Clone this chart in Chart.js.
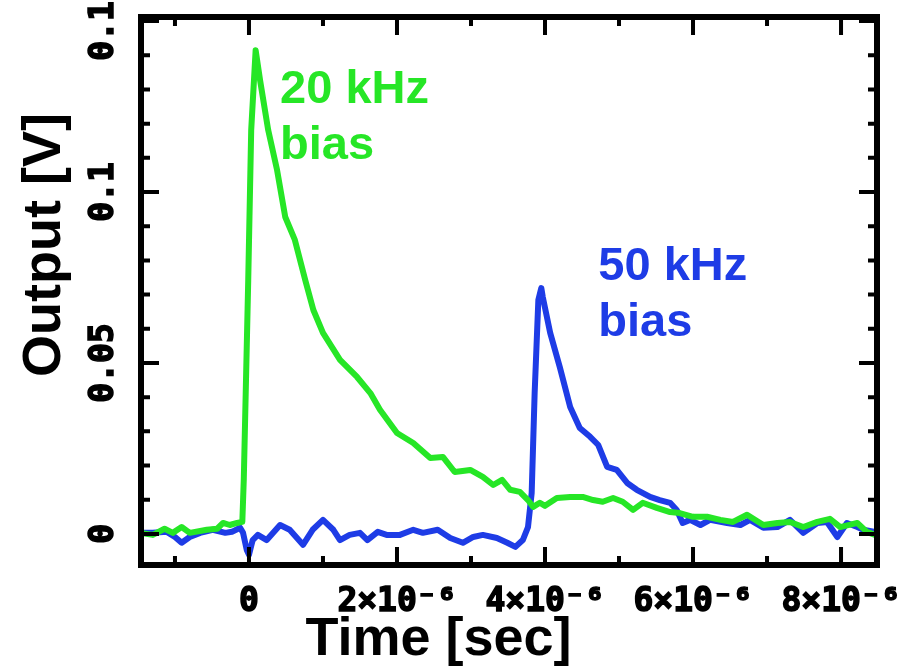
<!DOCTYPE html>
<html>
<head>
<meta charset="utf-8">
<title>Output vs Time</title>
<script src="https://cdn.jsdelivr.net/npm/chart.js@4.4.1/dist/chart.umd.min.js"></script>
<style>
  html, body { margin: 0; padding: 0; background: #fff; }
  #biasChart { display: block; }
</style>
</head>
<body>
<canvas id="biasChart" width="905" height="669"></canvas>
<script>
// 20 kHz bias trace (time in s, output in V)
const greenTime = [
  -1.46e-6, -1.30e-6, -1.14e-6, -1.03e-6, -0.91e-6, -0.80e-6, -0.57e-6, -0.43e-6, -0.35e-6, -0.26e-6,
  -0.16e-6, -0.09e-6, -0.07e-6, -0.01e-6, 0.03e-6, 0.09e-6, 0.15e-6, 0.26e-6, 0.38e-6, 0.49e-6,
  0.62e-6, 0.76e-6, 0.87e-6, 1.00e-6, 1.23e-6, 1.46e-6, 1.64e-6, 1.77e-6, 2.00e-6, 2.22e-6,
  2.45e-6, 2.62e-6, 2.78e-6, 2.99e-6, 3.16e-6, 3.30e-6, 3.42e-6, 3.53e-6, 3.66e-6, 3.77e-6,
  3.84e-6, 3.93e-6, 4.00e-6, 4.16e-6, 4.34e-6, 4.51e-6, 4.65e-6, 4.78e-6, 4.92e-6, 5.05e-6,
  5.19e-6, 5.32e-6, 5.51e-6, 5.69e-6, 5.82e-6, 6.00e-6, 6.19e-6, 6.37e-6, 6.54e-6, 6.73e-6,
  6.95e-6, 7.14e-6, 7.31e-6, 7.49e-6, 7.68e-6, 7.85e-6, 7.99e-6, 8.22e-6, 8.35e-6, 8.46e-6
];
const greenOutput = [
  0.0003, -0.0003, 0.0015, 0.0003, 0.0020, 0.0003, 0.0012, 0.0015, 0.0032, 0.0026,
  0.0032, 0.0035, 0.0160, 0.0743, 0.1181, 0.1415, 0.1327, 0.1181, 0.1064, 0.0927,
  0.0860, 0.0743, 0.0655, 0.0588, 0.0509, 0.0459, 0.0412, 0.0363, 0.0295, 0.0266,
  0.0222, 0.0225, 0.0181, 0.0187, 0.0167, 0.0143, 0.0158, 0.0129, 0.0123, 0.0099,
  0.0079, 0.0091, 0.0082, 0.0105, 0.0108, 0.0108, 0.0099, 0.0094, 0.0105, 0.0094,
  0.0070, 0.0091, 0.0076, 0.0064, 0.0061, 0.0050, 0.0050, 0.0041, 0.0035, 0.0056,
  0.0026, 0.0032, 0.0035, 0.0020, 0.0035, 0.0044, 0.0020, 0.0032, 0.0006, -0.0003
];

// 50 kHz bias trace
const blueTime = [
  -1.46e-6, -1.30e-6, -1.11e-6, -1.00e-6, -0.91e-6, -0.80e-6, -0.66e-6, -0.49e-6, -0.32e-6, -0.23e-6,
  -0.12e-6, -0.08e-6, -0.03e-6, 0.00e-6, 0.05e-6, 0.12e-6, 0.24e-6, 0.42e-6, 0.55e-6, 0.73e-6,
  0.86e-6, 1.00e-6, 1.14e-6, 1.23e-6, 1.36e-6, 1.50e-6, 1.60e-6, 1.74e-6, 1.86e-6, 2.04e-6,
  2.22e-6, 2.35e-6, 2.55e-6, 2.72e-6, 2.89e-6, 3.03e-6, 3.16e-6, 3.35e-6, 3.49e-6, 3.60e-6,
  3.70e-6, 3.77e-6, 3.82e-6, 3.86e-6, 3.91e-6, 3.95e-6, 3.97e-6, 4.07e-6, 4.20e-6, 4.34e-6,
  4.47e-6, 4.61e-6, 4.72e-6, 4.84e-6, 4.97e-6, 5.11e-6, 5.24e-6, 5.42e-6, 5.55e-6, 5.69e-6,
  5.78e-6, 5.86e-6, 5.96e-6, 6.10e-6, 6.23e-6, 6.46e-6, 6.64e-6, 6.77e-6, 6.95e-6, 7.14e-6,
  7.31e-6, 7.49e-6, 7.68e-6, 7.81e-6, 7.95e-6, 8.08e-6, 8.22e-6, 8.30e-6, 8.46e-6
];
const blueOutput = [
  0.0003, 0.0003, 0.0006, -0.0009, -0.0026, -0.0009, 0.0003, 0.0012, 0.0003, 0.0006,
  0.0018, 0.0003, -0.0047, -0.0061, -0.0018, -0.0003, -0.0018, 0.0026, 0.0012, -0.0032,
  0.0012, 0.0041, 0.0012, -0.0018, -0.0003, 0.0003, -0.0018, 0.0006, -0.0003, -0.0003,
  0.0012, 0.0003, 0.0012, -0.0012, -0.0026, -0.0009, -0.0003, -0.0012, -0.0026, -0.0038,
  -0.0018, 0.0020, 0.0120, 0.0412, 0.0684, 0.0719, 0.0693, 0.0588, 0.0488, 0.0371,
  0.0310, 0.0284, 0.0260, 0.0196, 0.0187, 0.0149, 0.0129, 0.0108, 0.0099, 0.0091,
  0.0070, 0.0032, 0.0041, 0.0026, 0.0041, 0.0032, 0.0026, 0.0041, 0.0018, 0.0020,
  0.0041, 0.0003, 0.0032, 0.0035, -0.0009, 0.0032, 0.0020, 0.0012, 0.0006
];

const xTickValues = [0, 2e-6, 4e-6, 6e-6, 8e-6];
const xTickLabels = ['0', '2×10⁻⁶', '4×10⁻⁶', '6×10⁻⁶', '8×10⁻⁶'];
const yTickValues = [0, 0.05, 0.1, 0.15];
const yTickLabels = ['0', '0.05', '0.1', '0.15'];

const GREEN = '#26e626';
const BLUE = '#1e3ce6';

// inline curve labels: text lines, left x (s), first baseline (V)
const curveLabels = [
  { lines: ['20 kHz', 'bias'], x: 0.42e-6, y: 0.126, color: GREEN },
  { lines: ['50 kHz', 'bias'], x: 4.72e-6, y: 0.0743, color: BLUE }
];

const X_MINOR = 1e-6, Y_MINOR = 0.01;

// box frame with inward ticks on all four sides, like the original plot
const framePlugin = {
  id: 'frame',
  afterDatasetsDraw(chart) {
    const { ctx, chartArea: a, scales: { x, y } } = chart;
    ctx.save();
    ctx.strokeStyle = '#000';
    ctx.lineWidth = 4;
    ctx.beginPath();
    for (let i = Math.ceil(x.min / X_MINOR); i <= Math.floor(x.max / X_MINOR); i++) {
      const px = x.getPixelForValue(i * X_MINOR);
      const len = i % 2 === 0 ? 18 : 9;
      ctx.moveTo(px, a.bottom); ctx.lineTo(px, a.bottom - len);
      ctx.moveTo(px, a.top); ctx.lineTo(px, a.top + len);
    }
    for (let i = Math.ceil(y.min / Y_MINOR); i <= Math.floor(y.max / Y_MINOR); i++) {
      const py = y.getPixelForValue(i * Y_MINOR);
      const len = i % 5 === 0 ? 18 : 9;
      ctx.moveTo(a.left, py); ctx.lineTo(a.left + len, py);
      ctx.moveTo(a.right, py); ctx.lineTo(a.right - len, py);
    }
    ctx.stroke();
    ctx.lineWidth = 6;
    ctx.strokeRect(a.left, a.top, a.right - a.left, a.bottom - a.top);
    ctx.restore();
  }
};

const textPlugin = {
  id: 'texts',
  afterDatasetsDraw(chart) {
    const { ctx, scales: { x, y } } = chart;
    ctx.save();
    ctx.font = 'bold 47px "Liberation Sans", Arial, sans-serif';
    ctx.textAlign = 'left';
    ctx.textBaseline = 'alphabetic';
    curveLabels.forEach(function (l) {
      ctx.fillStyle = l.color;
      const px = x.getPixelForValue(l.x);
      const py = y.getPixelForValue(l.y);
      l.lines.forEach(function (t, i) {
        ctx.fillText(t, px, py + i * 56);
      });
    });
    // y axis title sits higher than the plot centre in the original
    ctx.fillStyle = '#000';
    ctx.font = 'bold 54px "Liberation Sans", Arial, sans-serif';
    ctx.textAlign = 'center';
    ctx.translate(60, 245);
    ctx.rotate(-Math.PI / 2);
    ctx.fillText('Output [V]', 0, 0);
    ctx.restore();
  }
};

const tickFont = { family: '"DejaVu Sans Mono", monospace', size: 33, weight: 'bold' };

const ctx = document.getElementById('biasChart').getContext('2d');
new Chart(ctx, {
  type: 'line',
  data: {
    datasets: [
      {
        label: '20 kHz bias',
        data: greenTime.map((t, i) => ({ x: t, y: greenOutput[i] })),
        borderColor: GREEN,
        borderWidth: 6,
        borderJoinStyle: 'round',
        borderCapStyle: 'round',
        pointRadius: 0,
        tension: 0,
        fill: false,
        order: 0
      },
      {
        label: '50 kHz bias',
        data: blueTime.map((t, i) => ({ x: t, y: blueOutput[i] })),
        borderColor: BLUE,
        borderWidth: 6,
        borderJoinStyle: 'round',
        borderCapStyle: 'round',
        pointRadius: 0,
        tension: 0,
        fill: false,
        order: 1
      }
    ]
  },
  options: {
    responsive: false,
    devicePixelRatio: 1,
    animation: false,
    layout: { padding: { top: 17, right: 28, left: 0, bottom: 0 } },
    scales: {
      x: {
        type: 'linear',
        min: -1.459e-6,
        max: 8.486e-6,
        afterBuildTicks: function (scale) {
          scale.ticks = xTickValues.map(v => ({ value: v }));
        },
        afterFit: function (scale) {
          scale.height = 48;
          scale.paddingLeft = 0;
          scale.paddingRight = 0;
        },
        grid: { display: false, drawTicks: false },
        border: { display: false },
        ticks: {
          autoSkip: false,
          minRotation: 0,
          maxRotation: 0,
          padding: 18,
          color: '#000',
          textStrokeColor: '#000',
          textStrokeWidth: 1.5,
          font: tickFont,
          callback: (v, i) => xTickLabels[i]
        }
      },
      y: {
        type: 'linear',
        min: -0.0091,
        max: 0.1512,
        afterBuildTicks: function (scale) {
          scale.ticks = yTickValues.map(v => ({ value: v }));
        },
        afterFit: function (scale) {
          scale.width = 141;
          scale.paddingTop = 0;
          scale.paddingBottom = 0;
        },
        grid: { display: false, drawTicks: false },
        border: { display: false },
        ticks: {
          autoSkip: false,
          minRotation: 90,
          maxRotation: 90,
          crossAlign: 'center',
          padding: -3,
          color: '#000',
          textStrokeColor: '#000',
          textStrokeWidth: 1.5,
          font: tickFont,
          callback: (v, i) => yTickLabels[i]
        }
      }
    },
    plugins: {
      legend: { display: false },
      tooltip: { enabled: false },
      title: {
        display: true,
        position: 'bottom',
        text: 'Time [sec]',
        color: '#000',
        font: { family: '"Liberation Sans", Arial, sans-serif', size: 54, weight: 'bold', lineHeight: 1 },
        padding: { top: 0, bottom: 2 }
      }
    }
  },
  plugins: [framePlugin, textPlugin]
});
</script>
</body>
</html>
